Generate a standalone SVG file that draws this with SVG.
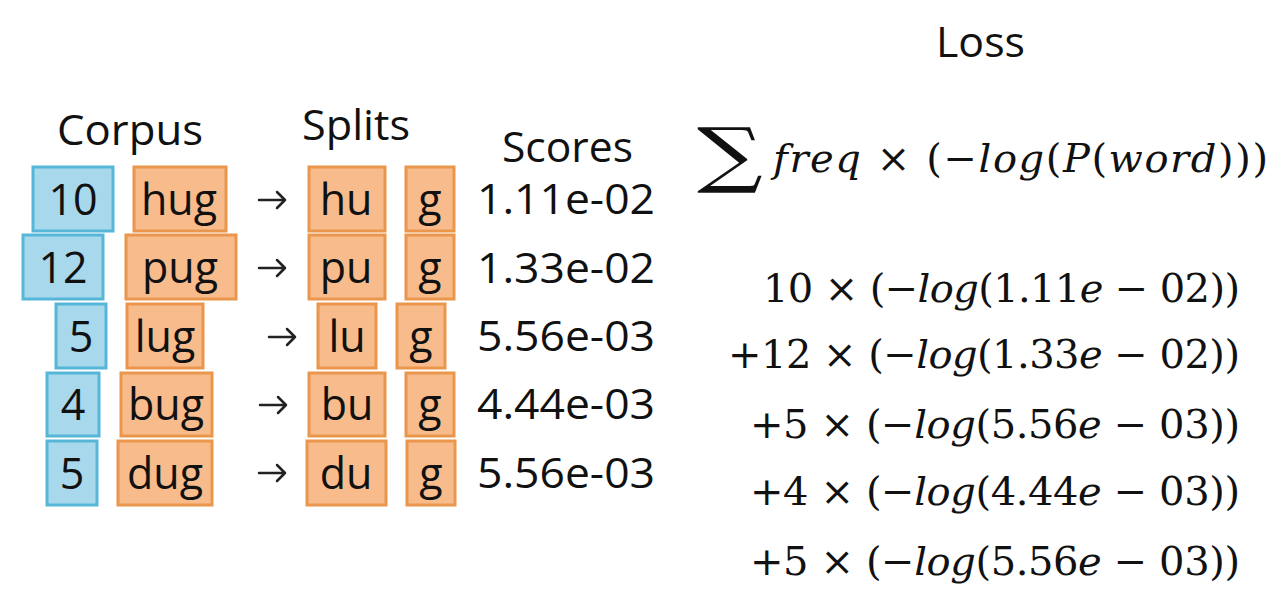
<svg xmlns="http://www.w3.org/2000/svg" width="1280" height="609" viewBox="0 0 1280 609">
<style>
.bg{fill:#ffffff}
.blue{fill:#a7d8eb;stroke:#56b6d8;stroke-width:3}
.orange{fill:#f8bb8b;stroke:#ea964c;stroke-width:3}
.lbl{font-family:"Open Sans","Noto Sans","Liberation Sans",sans-serif;font-size:43px;fill:#111;text-anchor:middle}
.hdr{font-family:"Open Sans","Noto Sans","Liberation Sans",sans-serif;font-size:42px;fill:#111}
.score{font-family:"Open Sans","Noto Sans","Liberation Sans",sans-serif;font-size:42px;fill:#111}
.math{font-family:"DejaVu Serif",serif;font-size:40px;fill:#111}
.it{font-style:italic}
.conn{fill:none;stroke:#222;stroke-width:2.5;stroke-linecap:round;stroke-linejoin:round}
</style>
<rect class="bg" x="0" y="0" width="1280" height="609"/>

<g id="headers">
<text class="hdr" x="57" y="145" textLength="146" lengthAdjust="spacingAndGlyphs">Corpus</text>
<text class="hdr" x="302" y="140" textLength="108" lengthAdjust="spacingAndGlyphs">Splits</text>
<text class="hdr" x="502" y="162" textLength="131" lengthAdjust="spacingAndGlyphs">Scores</text>
<text class="hdr" x="936" y="57" textLength="89" lengthAdjust="spacingAndGlyphs">Loss</text>
</g>

<g id="row1">
<rect class="blue" x="33" y="167" width="80" height="64"/>
<text class="lbl" x="73" y="215">10</text>
<rect class="orange" x="134" y="167" width="92" height="64"/>
<text class="lbl" x="179" y="215">hug</text>
<rect class="orange" x="309" y="167" width="76" height="64"/>
<text class="lbl" x="346" y="215">hu</text>
<rect class="orange" x="406" y="167" width="48" height="64"/>
<text class="lbl" x="430" y="215">g</text>
<text class="score" x="477" y="214" textLength="178" lengthAdjust="spacingAndGlyphs">1.11e-02</text>
</g>

<g id="row2">
<rect class="blue" x="23" y="235" width="80" height="64"/>
<text class="lbl" x="63" y="283">12</text>
<rect class="orange" x="126" y="235" width="110" height="64"/>
<text class="lbl" x="180" y="283">pug</text>
<rect class="orange" x="309" y="235" width="76" height="64"/>
<text class="lbl" x="346" y="283">pu</text>
<rect class="orange" x="406" y="235" width="48" height="64"/>
<text class="lbl" x="430" y="283">g</text>
<text class="score" x="477" y="283" textLength="178" lengthAdjust="spacingAndGlyphs">1.33e-02</text>
</g>

<g id="row3">
<rect class="blue" x="56" y="304" width="50" height="64"/>
<text class="lbl" x="81" y="352">5</text>
<rect class="orange" x="127" y="304" width="76" height="64"/>
<text class="lbl" x="165" y="352">lug</text>
<rect class="orange" x="318" y="304" width="58" height="64"/>
<text class="lbl" x="347" y="352">lu</text>
<rect class="orange" x="397" y="304" width="48" height="64"/>
<text class="lbl" x="421" y="352">g</text>
<text class="score" x="477" y="351" textLength="178" lengthAdjust="spacingAndGlyphs">5.56e-03</text>
</g>

<g id="row4">
<rect class="blue" x="47" y="373" width="52" height="63"/>
<text class="lbl" x="73" y="420">4</text>
<rect class="orange" x="121" y="373" width="91" height="63"/>
<text class="lbl" x="166" y="420">bug</text>
<rect class="orange" x="309" y="373" width="76" height="63"/>
<text class="lbl" x="347" y="420">bu</text>
<rect class="orange" x="406" y="373" width="48" height="63"/>
<text class="lbl" x="430" y="420">g</text>
<text class="score" x="477" y="419" textLength="178" lengthAdjust="spacingAndGlyphs">4.44e-03</text>
</g>

<g id="row5">
<rect class="blue" x="47" y="441" width="50" height="64"/>
<text class="lbl" x="72" y="489">5</text>
<rect class="orange" x="118" y="441" width="94" height="64"/>
<text class="lbl" x="165" y="489">dug</text>
<rect class="orange" x="307" y="441" width="79" height="64"/>
<text class="lbl" x="346" y="489">du</text>
<rect class="orange" x="407" y="441" width="48" height="64"/>
<text class="lbl" x="431" y="489">g</text>
<text class="score" x="477" y="488" textLength="178" lengthAdjust="spacingAndGlyphs">5.56e-03</text>
</g>

<g id="connectors">
<path class="conn" d="M259 200 H285 M277 192 L285 200 L277 208"/>
<path class="conn" d="M259 268 H285 M277 260 L285 268 L277 276"/>
<path class="conn" d="M269 337 H295 M287 329 L295 337 L287 345"/>
<path class="conn" d="M260 405 H286 M278 397 L286 405 L278 413"/>
<path class="conn" d="M259 473 H285 M277 465 L285 473 L277 481"/>
</g>

<g id="formula">
<text class="math" transform="translate(697,179) scale(1.28,1)" style="font-size:72px">∑</text>
<text class="math" x="773" y="172" textLength="495" lengthAdjust="spacing"><tspan class="it">freq</tspan> × (−<tspan class="it">log</tspan>(<tspan class="it">P</tspan>(<tspan class="it">word</tspan>)))</text>
</g>

<g id="loss-terms">
<text class="math" x="763" y="302" textLength="477" lengthAdjust="spacing">10 × (−<tspan class="it">log</tspan>(1.11<tspan class="it">e</tspan> − 02))</text>
<text class="math" x="728" y="368" textLength="512" lengthAdjust="spacing">+12 × (−<tspan class="it">log</tspan>(1.33<tspan class="it">e</tspan> − 02))</text>
<text class="math" x="750" y="438" textLength="490" lengthAdjust="spacing">+5 × (−<tspan class="it">log</tspan>(5.56<tspan class="it">e</tspan> − 03))</text>
<text class="math" x="750" y="505" textLength="490" lengthAdjust="spacing">+4 × (−<tspan class="it">log</tspan>(4.44<tspan class="it">e</tspan> − 03))</text>
<text class="math" x="750" y="575" textLength="490" lengthAdjust="spacing">+5 × (−<tspan class="it">log</tspan>(5.56<tspan class="it">e</tspan> − 03))</text>
</g>
</svg>
